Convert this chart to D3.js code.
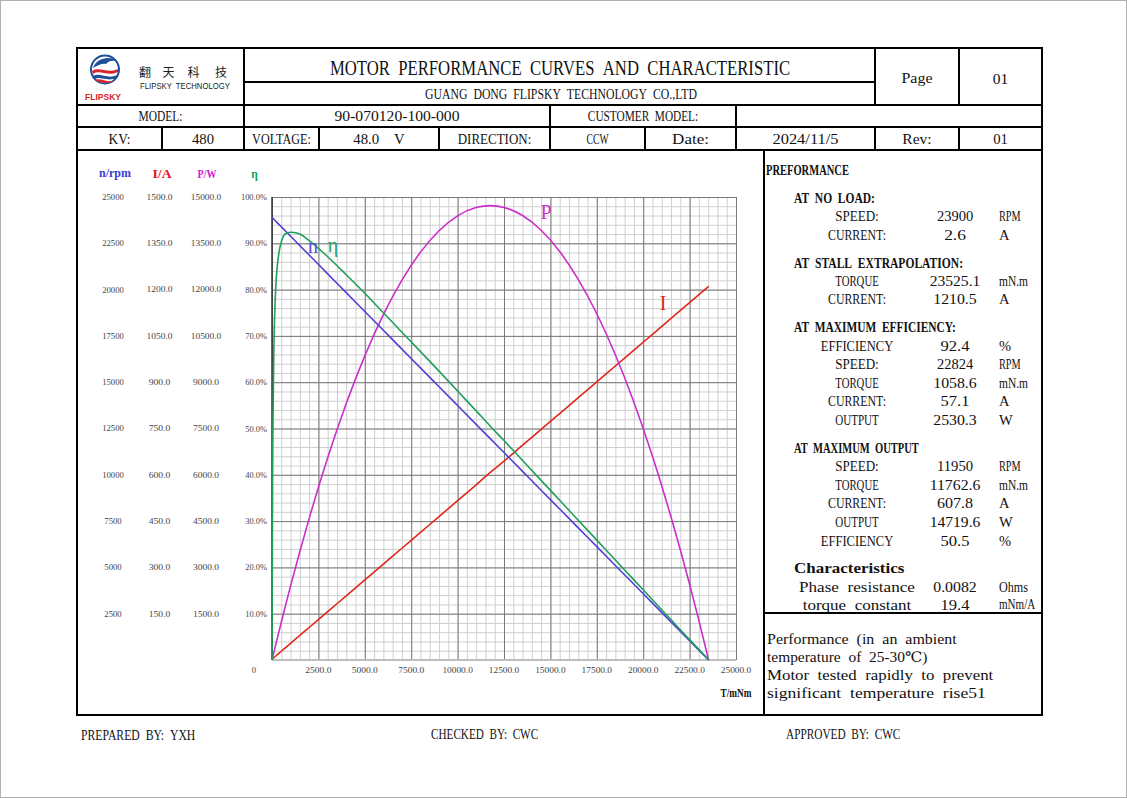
<!DOCTYPE html>
<html>
<head>
<meta charset="utf-8">
<script src="https://cdn.jsdelivr.net/npm/d3@7"></script>
<style>
  body { margin: 0; background: #fff; }
  text { white-space: pre; }
</style>
</head>
<body>
<svg id="sheet" width="1127" height="798"></svg>
<script>
// curve values (torque in mNm)
var torque  = [0, 30, 50, 100, 250, 500, 750, 1058.6, 1500, 2000, 3000, 4000, 5000, 6000, 7000, 8000, 9000, 10000, 11000, 11762.6, 12500, 13500, 14500, 15500, 16500, 17500, 18500, 19500, 20500, 21500, 22500, 23000, 23525.1];
var speed   = [23900, 23870, 23849, 23798, 23646, 23392, 23138, 22824, 22376, 21868, 20852, 19836, 18820, 17804, 16788, 15773, 14757, 13741, 12725, 11950, 11201, 10185, 9169, 8153, 7137, 6121, 5105, 4089, 3073, 2057, 1041, 534, 0];
var current = [2.6, 4.1, 5.2, 7.7, 15.4, 28.3, 41.1, 57.1, 79.6, 105.3, 156.6, 208.0, 259.3, 310.7, 362.0, 413.4, 464.7, 516.1, 567.4, 607.8, 644.4, 695.8, 747.1, 798.5, 849.8, 901.1, 952.5, 1003.8, 1055.2, 1106.5, 1157.9, 1183.5, 1210.5];
var power   = [0, 75, 125, 249, 619, 1225, 1817, 2530.3, 3515, 4580, 6551, 8309, 9854, 11187, 12307, 13214, 13908, 14389, 14658, 14719.6, 14662, 14399, 13922, 13234, 12332, 11218, 9890, 8350, 6598, 4632, 2454, 1285, 0];
var effic   = [0, 37.7, 50.3, 67.2, 83.5, 90.3, 92.1, 92.4, 92.0, 90.6, 87.1, 83.2, 79.2, 75.0, 70.8, 66.6, 62.4, 58.1, 53.8, 50.5, 47.4, 43.1, 38.8, 34.5, 30.2, 25.9, 21.6, 17.3, 13.0, 8.7, 4.4, 2.3, 0];

var speedTicks = [2500, 5000, 7500, 10000, 12500, 15000, 17500, 20000, 22500, 25000];
var currentTicks = [150, 300, 450, 600, 750, 900, 1050, 1200, 1350, 1500];
var powerTicks = [1500, 3000, 4500, 6000, 7500, 9000, 10500, 12000, 13500, 15000];
var effTicks = [10, 20, 30, 40, 50, 60, 70, 80, 90, 100];
var torqueTicks = [2500, 5000, 7500, 10000, 12500, 15000, 17500, 20000, 22500, 25000];

var svg = d3.select("#sheet");
var SERIF = "Liberation Serif, DejaVu Serif, serif";
var SANS = "Liberation Sans, Arial, sans-serif";

// text helper: the sheet font is half-width monospace, so squeeze each string to n * size/2
// (spaces become en spaces so they keep a half-width cell too)
function put(g, s, x, y, size, opt) {
  opt = opt || {};
  var t = g.append("text")
    .attr("x", 0).attr("y", 0)
    .attr("font-size", size)
    .attr("text-anchor", opt.anchor || "middle")
    .attr("dominant-baseline", "central")
    .attr("font-family", opt.font || SERIF)
    .attr("fill", opt.fill || "#111")
    .text(opt.len === false ? s : s.replace(/ /g, "\u2002"));
  if (opt.weight) t.attr("font-weight", opt.weight);
  var k = 1;
  if (opt.len !== false && s.length > 1) {
    var w = t.node().getComputedTextLength();
    var target = opt.len || s.length * size * 0.5;
    if (w > 0) k = target / w;
  }
  t.attr("transform", "translate(" + x + "," + y + ") scale(" + k + ",1)");
  return t;
}

svg.append("rect").attr("x", 0.5).attr("y", 0.5).attr("width", 1126).attr("height", 797)
  .attr("fill", "none").attr("stroke", "#b0b0b0");

// ---------- form frame ----------
var frame = svg.append("g").attr("stroke", "#000").attr("stroke-width", 2);
var hLines = [
  [244, 875, 82], [77, 1042, 105], [77, 1042, 127], [77, 1042, 150], [764, 1042, 613]
];
var vLines = [
  [244, 48, 150], [875, 48, 105], [959, 48, 105],
  [550, 105, 150], [736, 105, 150],
  [162, 127, 150], [319, 127, 150], [439, 127, 150], [645, 127, 150], [875, 127, 150], [959, 127, 150],
  [764, 150, 715]
];
frame.append("rect").attr("x", 77).attr("y", 48).attr("width", 965).attr("height", 667).attr("fill", "none");
frame.selectAll("line.h").data(hLines).enter().append("line")
  .attr("x1", function(d){return d[0];}).attr("x2", function(d){return d[1];})
  .attr("y1", function(d){return d[2];}).attr("y2", function(d){return d[2];});
frame.selectAll("line.v").data(vLines).enter().append("line")
  .attr("x1", function(d){return d[0];}).attr("x2", function(d){return d[0];})
  .attr("y1", function(d){return d[1];}).attr("y2", function(d){return d[2];});

var form = svg.append("g");
put(form, "MOTOR PERFORMANCE CURVES AND CHARACTERISTIC", 560, 68, 21.4);
put(form, "GUANG DONG FLIPSKY TECHNOLOGY CO.,LTD", 561, 94, 14.7);
put(form, "Page", 917, 78, 15.5);
put(form, "01", 1000.5, 78, 15.5);

var cells = [
  ["MODEL:", 160.5, 116], ["90-070120-100-000", 397, 116], ["CUSTOMER MODEL:", 643, 116],
  ["KV:", 119.5, 139], ["480", 203, 139], ["VOLTAGE:", 281.5, 139], ["48.0  V", 379, 139],
  ["DIRECTION:", 494.5, 139], ["CCW", 597.5, 139], ["Date:", 690.5, 139], ["2024/11/5", 805.5, 139],
  ["Rev:", 917, 139], ["01", 1000.5, 139]
];
cells.forEach(function(c){ put(form, c[0], c[1], c[2], 14.7); });

// logo
var logo = svg.append("g");
logo.append("circle").attr("cx", 105).attr("cy", 69.5).attr("r", 14).attr("fill", "#fff")
  .attr("stroke", "#1f4e9a").attr("stroke-width", 2);
logo.append("path").attr("d", "M93,68 C96,58 110,55 117,61 C112,60 108,61 106,64 C103,63 98,65 93,68 Z").attr("fill", "#1f4e9a");
logo.append("path").attr("d", "M92,71 C99,66 108,74 118,69 L118,72 C108,77 99,69 93,74 Z").attr("fill", "#d8262c");
logo.append("path").attr("d", "M93,76 C100,72 108,80 117,75 L116,78 C108,82 100,76 95,79 Z").attr("fill", "#1f4e9a");
logo.append("path").attr("d", "M95,80 C101,77 108,84 115,80 C112,84 100,84 95,80 Z").attr("fill", "#d8262c");
put(logo, "FLIPSKY", 103, 97, 8.5, {font: SANS, weight: "bold", fill: "#d8262c", len: 36});
["翻", "天", "科", "技"].forEach(function(ch, i){
  put(logo, ch, [145, 168.5, 193.5, 221][i], 71, 12, {font: "Noto Sans CJK SC, sans-serif", fill: "#222", len: false});
});
put(logo, "FLIPSKY TECHNOLOGY", 185, 86, 9.5, {font: SANS, fill: "#222", len: 90});

// ---------- chart ----------
var x = d3.scaleLinear().domain([0, 25000]).range([272, 736]);
var ySpeed = d3.scaleLinear().domain([0, 25000]).range([660, 197]);
var yCur = d3.scaleLinear().domain([0, 1500]).range([660, 197]);
var yPow = d3.scaleLinear().domain([0, 15000]).range([660, 197]);
var yEff = d3.scaleLinear().domain([0, 100]).range([660, 197]);

var plot = svg.append("g");
plot.append("rect").attr("x", 272).attr("y", 197).attr("width", 464).attr("height", 463).attr("fill", "#fff");

function gridStyle(g, color) {
  g.select(".domain").remove();
  g.selectAll("text").remove();
  g.selectAll("line").attr("stroke", color).attr("stroke-width", 1);
}
plot.append("g").attr("transform", "translate(0,660)")
  .call(d3.axisBottom(x).tickValues(d3.range(0, 25001, 500)).tickSize(-463))
  .call(gridStyle, "#cfcfcf");
plot.append("g").attr("transform", "translate(272,0)")
  .call(d3.axisLeft(yEff).tickValues(d3.range(0, 100.1, 2)).tickSize(-464))
  .call(gridStyle, "#cfcfcf");
plot.append("g").attr("transform", "translate(0,660)")
  .call(d3.axisBottom(x).tickValues(d3.range(0, 25001, 2500)).tickSize(-463))
  .call(gridStyle, "#7a7a7a");
plot.append("g").attr("transform", "translate(272,0)")
  .call(d3.axisLeft(yEff).tickValues(d3.range(0, 100.1, 10)).tickSize(-464))
  .call(gridStyle, "#7a7a7a");
plot.append("line").attr("x1", 272).attr("x2", 272).attr("y1", 197).attr("y2", 660)
  .attr("stroke", "#333").attr("stroke-width", 1.5);
plot.append("line").attr("x1", 272).attr("x2", 736).attr("y1", 660).attr("y2", 660)
  .attr("stroke", "#bdbdbd").attr("stroke-width", 2);

// axis label columns
var ax = svg.append("g");
put(ax, "n/rpm", 115, 174, 11.5, {weight: "bold", fill: "#3b3bd6", len: 32});
put(ax, "I/A", 162, 174, 11.5, {weight: "bold", fill: "#e8101a", len: 19});
put(ax, "P/W", 207, 174, 11.5, {weight: "bold", fill: "#d21ad2", len: 19});
put(ax, "η", 254.5, 174, 11.5, {weight: "bold", fill: "#10a060"});
var tickFill = "#444";
speedTicks.forEach(function(v){ put(ax, String(v), 113, ySpeed(v), 8.7, {fill: tickFill}); });
currentTicks.forEach(function(v){ put(ax, v.toFixed(1), 159.5, yCur(v), 8.7, {fill: tickFill}); });
powerTicks.forEach(function(v){ put(ax, v.toFixed(1), 206, yPow(v), 8.7, {fill: tickFill}); });
effTicks.forEach(function(v){ put(ax, v.toFixed(1) + "%", 267, yEff(v), 8.7, {fill: tickFill, anchor: "end"}); });
torqueTicks.forEach(function(v){ put(ax, v.toFixed(1), x(v), 670, 8.7, {fill: tickFill}); });
put(ax, "0", 254, 670, 8.7, {fill: tickFill});
put(ax, "T/mNm", 736, 693, 11.5, {weight: "bold", fill: "#111", len: 31});

// curves
function drawCurve(vals, y, color) {
  var pts = torque.map(function(t, i){ return [t, vals[i]]; });
  plot.append("path").datum(pts)
    .attr("fill", "none").attr("stroke", color).attr("stroke-width", 1.6)
    .attr("d", d3.line().x(function(d){return x(d[0]);}).y(function(d){return y(d[1]);}).curve(d3.curveMonotoneX));
}
drawCurve(current, yCur, "#e2261c");
drawCurve(power, yPow, "#cc2ecc");
drawCurve(speed, ySpeed, "#5040d8");
drawCurve(effic, yEff, "#1f9e5c");

put(plot, "n", 313, 246, 20, {fill: "#5a4fd8", len: false});
put(plot, "η", 333, 245, 20, {fill: "#2aa060", len: false});
put(plot, "P", 546, 212, 20, {fill: "#cc2ecc", len: false});
put(plot, "I", 663, 303, 20, {fill: "#e2261c", len: false});

// ---------- performance panel ----------
var panel = svg.append("g");
put(panel, "PREFORMANCE", 766, 170, 14.5, {anchor: "start", weight: "bold", len: 83});
var heads = [
  ["AT NO LOAD:", 198], ["AT STALL EXTRAPOLATION:", 263], ["AT MAXIMUM EFFICIENCY:", 327],
  ["AT MAXIMUM OUTPUT", 448], ["Characteristics", 568]
];
heads.forEach(function(h){ put(panel, h[0], 794, h[1], 14.7, {anchor: "start", weight: "bold"}); });
var rows = [
  ["SPEED:", "23900", "RPM", 216], ["CURRENT:", "2.6", "A", 235],
  ["TORQUE", "23525.1", "mN.m", 281], ["CURRENT:", "1210.5", "A", 299],
  ["EFFICIENCY", "92.4", "%", 346], ["SPEED:", "22824", "RPM", 364], ["TORQUE", "1058.6", "mN.m", 383],
  ["CURRENT:", "57.1", "A", 401], ["OUTPUT", "2530.3", "W", 420],
  ["SPEED:", "11950", "RPM", 466], ["TORQUE", "11762.6", "mN.m", 485], ["CURRENT:", "607.8", "A", 503],
  ["OUTPUT", "14719.6", "W", 522], ["EFFICIENCY", "50.5", "%", 541],
  ["Phase resistance", "0.0082", "Ohms", 587], ["torque constant", "19.4", "mNm/A", 605]
];
rows.forEach(function(r){
  put(panel, r[0], 857, r[3], 14.5);
  put(panel, r[1], 955, r[3], 14.5);
  put(panel, r[2], 999, r[3], 14.5, {anchor: "start"});
});
var notes = ["Performance (in an ambient", "temperature of 25-30℃)", "Motor tested rapidly to prevent", "significant temperature rise51"];
notes.forEach(function(s, i){ put(panel, s, 767, 639 + i * 18, 14.6, {anchor: "start"}); });

// ---------- footer ----------
var foot = svg.append("g");
put(foot, "PREPARED BY: YXH", 81, 735, 14.3, {anchor: "start"});
put(foot, "CHECKED BY: CWC", 431, 735, 14.3, {anchor: "start"});
put(foot, "APPROVED BY: CWC", 786, 735, 14.3, {anchor: "start"});
</script>
</body>
</html>
